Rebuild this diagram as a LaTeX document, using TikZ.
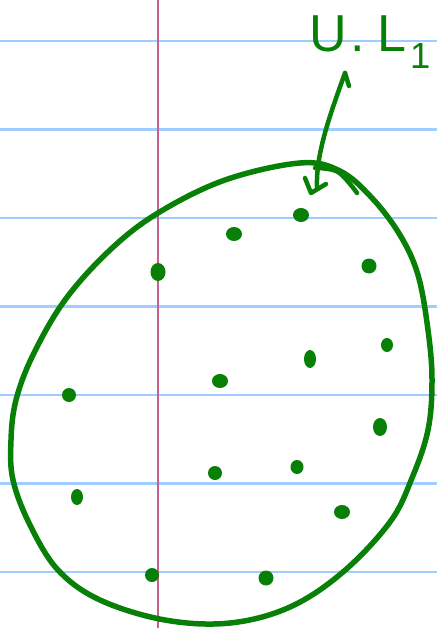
\documentclass[tikz,border=0pt]{standalone}
\usepackage{fontspec}
\setmainfont{Liberation Sans}
\definecolor{ink}{RGB}{8,128,8}
\definecolor{rule}{RGB}{160,205,255}
\definecolor{margin}{RGB}{196,96,140}
\tikzset{
  paperline/.style={draw=rule, line width=2.4pt},
  marginline/.style={draw=margin, line width=1.8pt},
  pen/.style={draw=ink, line width=5.5pt, line cap=round, line join=round},
  thinpen/.style={draw=ink, line width=4.5pt, line cap=round, line join=round},
  spot/.style={fill=ink, draw=none},
  lbl/.style={text=ink, font=\fontsize{52}{52}\selectfont, inner sep=0pt}
}
\begin{document}
\begin{tikzpicture}[x=1pt,y=-1pt]
\useasboundingbox (0,0) rectangle (437,628);
\fill[white] (0,0) rectangle (437,628);
% ruled paper
\foreach \yy in {41,129.5,218,306.5,395,483.5,572}
  \draw[paperline] (0,\yy) -- (437,\yy);
\draw[marginline] (158,0) -- (158,628);
% blob outline
\draw[pen] plot[smooth cycle, tension=0.6] coordinates {
 (300,163) (340,171) (372,198) (400,235) (418,275) (428,330) (432,380)
 (428,430) (412,478) (390,522) (343,572) (290,607) (230,623) (165,620)
 (100,600) (58,570) (30,525) (13,480) (11,440) (16,400) (33,355)
 (65,300) (110,250) (158,213) (225,180)};
\draw[thinpen] plot[smooth, tension=0.6] coordinates {(315,168) (338,172) (357,193)};
% dots
\foreach \px/\py/\rx/\ry in {234/234/8/7, 301/215/8/7, 369/266/7.5/7.5, 158/272/7.5/9,
  387/345/6/7, 310/359/6/9, 220/381/8/7, 69/395/7/7, 380/427/7/9,
  215/473/7/7, 297/467/6.5/7, 77/497/6/8, 342/512/8/7, 152/575/7/7, 266/578/7.5/7.5}
  \fill[spot] (\px,\py) ellipse [x radius=\rx, y radius=\ry];
% label and arrow
\node[lbl, anchor=base west] (label) at (309,52)
  {U\hspace{4pt}.\hspace{12pt}L\hspace{4pt}\textsubscript{1}};
\coordinate (top) at (345,73);
\coordinate (tip) at (317,187);
\draw[thinpen] (top) .. controls (328,120) and (316,155) .. (tip);
\draw[thinpen] (top) -- (349,86);
\draw[thinpen] (305,178) -- (311,193) -- (326,184);
\end{tikzpicture}
\end{document}
